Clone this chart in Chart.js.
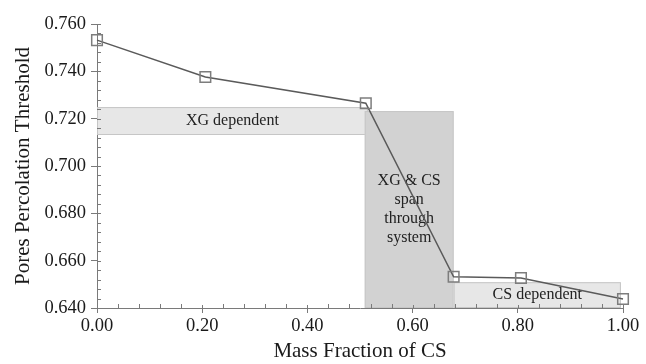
<!DOCTYPE html>
<html lang="en">
<head>
    <meta charset="UTF-8">
    <title>Pores Percolation Threshold vs Mass Fraction of CS</title>
    <script src="https://cdn.jsdelivr.net/npm/chart.js"></script>
    <style>
        html, body {
            margin: 0;
            padding: 0;
            background: #ffffff;
        }

        .chart-box {
            position: relative;
            width: 646px;
            height: 364px;
        }
    </style>
</head>
<body>
    <div class="chart-box">
        <canvas id="thresholdChart"></canvas>
    </div>

    <script>
        // measured points
        const massFraction = [0.0, 0.206, 0.511, 0.678, 0.806, 1.0];
        const threshold = [0.7532, 0.7376, 0.7265, 0.6532, 0.6527, 0.6438];

        const xTicks = [0.0, 0.2, 0.4, 0.6, 0.8, 1.0];
        const yTicks = [0.64, 0.66, 0.68, 0.70, 0.72, 0.74, 0.76];

        // shaded regions (x range, y range) and their labels
        const regionLabels = [['XG dependent'], ['XG & CS', 'span', 'through', 'system'], ['CS dependent']];
        const regionXFrom = [0.0, 0.509, 0.678];
        const regionXTo = [0.515, 0.678, 0.996];
        const regionYFrom = [0.7131, 0.640, 0.640];
        const regionYTo = [0.7249, 0.7232, 0.6509];
        const regionFill = ['#e7e7e7', '#d2d2d2', '#e7e7e7'];

        const serif = '"Liberation Serif", "DejaVu Serif", serif';

        // grey boxes with their captions, drawn under the line
        const regionsPlugin = {
            id: 'regions',
            beforeDatasetsDraw(chart) {
                const { ctx, scales: { x, y } } = chart;
                ctx.save();
                regionLabels.forEach((lines, i) => {
                    const left = x.getPixelForValue(regionXFrom[i]);
                    const right = x.getPixelForValue(regionXTo[i]);
                    const top = y.getPixelForValue(regionYTo[i]);
                    const bottom = y.getPixelForValue(regionYFrom[i]);
                    ctx.fillStyle = regionFill[i];
                    ctx.fillRect(left, top, right - left, bottom - top);
                    ctx.strokeStyle = '#c6c6c6';
                    ctx.lineWidth = 1;
                    ctx.strokeRect(left + 0.5, top + 0.5, right - left - 1, bottom - top - 1);

                    ctx.fillStyle = '#222';
                    ctx.font = '16px ' + serif;
                    ctx.textAlign = 'center';
                    ctx.textBaseline = 'middle';
                    const lh = 19;
                    const cx = (left + right) / 2;
                    const cy = (top + bottom) / 2 - (lines.length - 1) * lh / 2;
                    lines.forEach((t, k) => ctx.fillText(t, cx, cy + k * lh));
                });
                ctx.restore();
            }
        };

        // minor ticks and the inner stub of major ticks
        const minorTicksPlugin = {
            id: 'minorTicks',
            afterDraw(chart) {
                const { ctx, chartArea, scales: { x, y } } = chart;
                ctx.save();
                ctx.strokeStyle = '#7a7a7a';
                ctx.lineWidth = 1;
                ctx.beginPath();
                for (let v = 0; v <= 1.0001; v += 0.04) {
                    const px = Math.round(x.getPixelForValue(v)) + 0.5;
                    const major = Math.abs(v * 5 - Math.round(v * 5)) < 1e-6;
                    ctx.moveTo(px, chartArea.bottom);
                    ctx.lineTo(px, chartArea.bottom - (major ? 3 : 4));
                }
                for (let v = 0.64; v <= 0.7601; v += 0.004) {
                    const py = Math.round(y.getPixelForValue(v)) + 0.5;
                    ctx.moveTo(chartArea.left, py);
                    ctx.lineTo(chartArea.left + 4, py);
                }
                ctx.stroke();
                ctx.restore();
            }
        };

        new Chart(document.getElementById('thresholdChart'), {
            type: 'scatter',
            data: {
                datasets: [{
                    data: massFraction.map((m, i) => ({ x: m, y: threshold[i] })),
                    showLine: true,
                    clip: false,
                    borderColor: '#5a5a5a',
                    borderWidth: 1.5,
                    pointStyle: 'rect',
                    pointRadius: 7.5,
                    pointBorderColor: '#7d7d7d',
                    pointBorderWidth: 1.5,
                    pointBackgroundColor: 'rgba(0,0,0,0)'
                }]
            },
            options: {
                responsive: true,
                maintainAspectRatio: false,
                animation: false,
                layout: {
                    padding: { top: 24, right: 23, left: 0, bottom: 0 }
                },
                plugins: {
                    legend: { display: false },
                    tooltip: { enabled: false }
                },
                scales: {
                    x: {
                        type: 'linear',
                        min: 0,
                        max: 1,
                        afterBuildTicks: (s) => { s.ticks = xTicks.map(v => ({ value: v })); },
                        afterFit: (s) => { s.height = 56; },
                        grid: {
                            drawOnChartArea: false,
                            drawTicks: true,
                            tickLength: 5,
                            color: '#7a7a7a'
                        },
                        border: { display: true, color: '#7a7a7a', width: 1 },
                        ticks: {
                            padding: 2,
                            color: '#1a1a1a',
                            font: { family: serif, size: 18.5 },
                            callback: (v) => Number(v).toFixed(2)
                        },
                        title: {
                            display: true,
                            text: 'Mass Fraction of CS',
                            color: '#1a1a1a',
                            font: { family: serif, size: 21 },
                            padding: { top: 0, bottom: 0 }
                        }
                    },
                    y: {
                        type: 'linear',
                        min: 0.64,
                        max: 0.76,
                        afterBuildTicks: (s) => { s.ticks = yTicks.map(v => ({ value: v })); },
                        afterFit: (s) => { s.width = 97; },
                        grid: {
                            drawOnChartArea: false,
                            drawTicks: true,
                            tickLength: 6,
                            color: '#7a7a7a'
                        },
                        border: { display: true, color: '#7a7a7a', width: 1 },
                        ticks: {
                            padding: 5,
                            color: '#1a1a1a',
                            font: { family: serif, size: 18.5 },
                            callback: (v) => Number(v).toFixed(3)
                        },
                        title: {
                            display: true,
                            text: 'Pores Percolation Threshold',
                            color: '#1a1a1a',
                            font: { family: serif, size: 21 },
                            padding: { top: 11, bottom: 0 }
                        }
                    }
                }
            },
            plugins: [regionsPlugin, minorTicksPlugin]
        });
    </script>
</body>
</html>
